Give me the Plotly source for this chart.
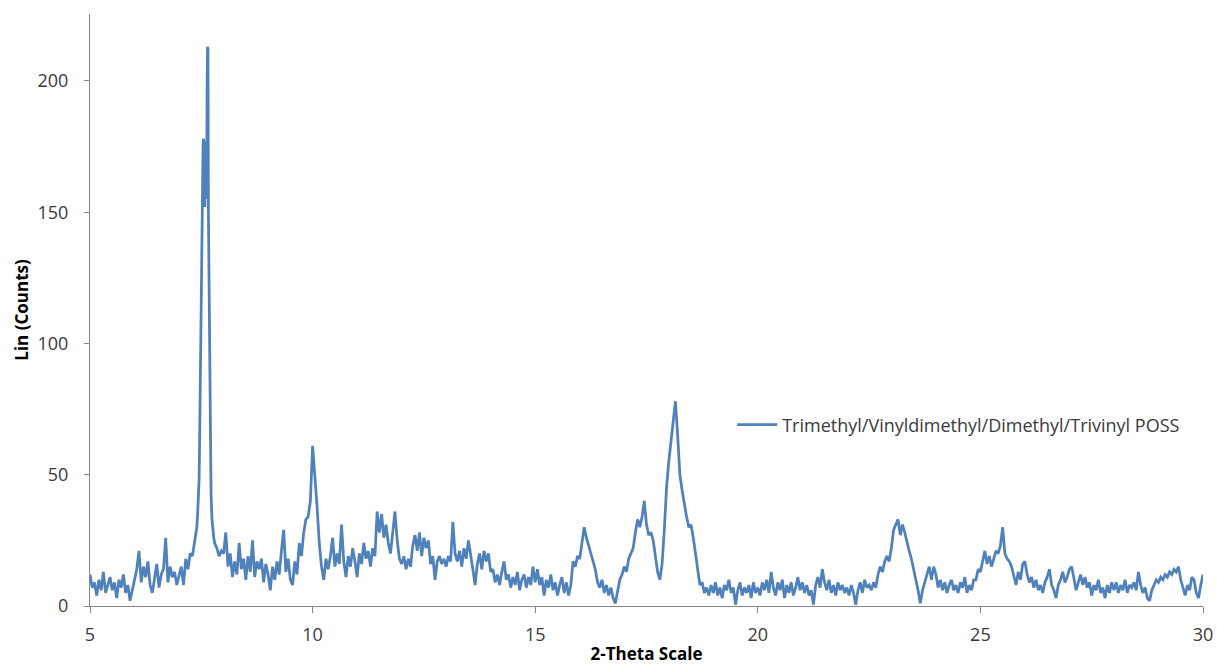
import plotly.graph_objects as go

# XRD scan: Lin (Counts) versus 2-theta, sampled every 0.05 deg from 5.00 deg
theta_start = 5.0
theta_step = 0.05
counts = [
    # 5.00 - 5.95
    12, 7, 9, 4, 10, 6, 13, 5, 8, 11, 6, 9, 3, 10, 7, 12, 5, 8, 2, 6,
    # 6.00 - 6.95
    10, 14, 21, 9, 15, 11, 17, 8, 5, 10, 16, 7, 12, 14, 26, 9, 15, 11, 13, 8,
    # 7.00 - 7.95
    12, 15, 8, 18, 14, 20, 19, 24, 30, 48, 135, 178, 155, 212, 65, 30, 24, 22, 19, 21,
    # 8.00 - 8.95
    20, 28, 15, 20, 11, 17, 12, 24, 14, 18, 10, 19, 13, 25, 11, 17, 14, 18, 9, 16,
    # 9.00 - 9.95
    12, 6, 15, 10, 17, 12, 21, 29, 13, 18, 10, 8, 17, 12, 24, 19, 28, 33, 34, 40,
    # 10.00 - 10.95
    61, 50, 38, 24, 15, 10, 18, 14, 19, 26, 15, 20, 16, 31, 17, 11, 19, 15, 22, 17,
    # 11.00 - 11.95
    11, 20, 16, 24, 18, 21, 15, 22, 19, 36, 28, 35, 26, 31, 24, 20, 27, 36, 25, 18,
    # 12.00 - 12.95
    16, 19, 14, 18, 15, 23, 27, 21, 28, 19, 26, 22, 25, 16, 19, 10, 17, 19, 16, 18,
    # 13.00 - 13.95
    15, 19, 17, 32, 20, 17, 21, 15, 22, 18, 25, 20, 14, 8, 16, 20, 14, 21, 17, 20,
    # 14.00 - 14.95
    13, 14, 9, 12, 8, 13, 17, 10, 12, 7, 11, 8, 13, 6, 10, 12, 7, 11, 8, 15,
    # 15.00 - 15.95
    9, 14, 8, 11, 4, 10, 7, 12, 6, 9, 4, 8, 11, 5, 9, 4, 8, 17, 15, 19,
    # 16.00 - 16.95
    18, 24, 30, 26, 23, 20, 17, 14, 9, 7, 10, 5, 8, 4, 7, 3, 1, 6, 10, 12,
    # 17.00 - 17.95
    15, 13, 18, 20, 22, 28, 33, 30, 34, 40, 31, 27, 28, 25, 18, 13, 10, 16, 29, 45,
    # 18.00 - 18.95
    55, 62, 70, 78, 65, 50, 44, 38, 34, 30, 31, 26, 20, 12, 8, 9, 5, 7, 4, 8,
    # 19.00 - 19.95
    5, 9, 4, 7, 3, 8, 6, 10, 5, 7, 0.5, 6, 9, 4, 7, 5, 8, 3, 9, 5,
    # 20.00 - 20.95
    7, 4, 9, 6, 10, 5, 13, 7, 4, 9, 6, 10, 3, 8, 5, 9, 4, 7, 11, 6,
    # 21.00 - 21.95
    9, 5, 8, 4, 6, 0.5, 8, 11, 7, 14, 9, 6, 10, 5, 8, 4, 9, 6, 8, 5,
    # 22.00 - 22.95
    7, 4, 8, 5, 0.5, 6, 9, 5, 10, 7, 8, 6, 9, 7, 12, 15, 13, 17, 19, 17,
    # 23.00 - 23.95
    22, 29, 31, 33, 27, 31, 28, 24, 21, 18, 14, 11, 6, 1, 6, 9, 12, 15, 10, 15,
    # 24.00 - 24.95
    12, 7, 10, 6, 9, 5, 8, 10, 6, 8, 5, 9, 7, 11, 5, 8, 6, 10, 10, 14,
    # 25.00 - 25.95
    13, 17, 21, 16, 19, 15, 18, 21, 20, 23, 30, 20, 18, 17, 15, 12, 8, 13, 10, 16,
    # 26.00 - 26.95
    17, 12, 9, 11, 7, 10, 6, 8, 5, 9, 11, 14, 8, 6, 3, 8, 10, 13, 9, 11,
    # 27.00 - 27.95
    14, 15, 10, 6, 9, 12, 8, 11, 7, 9, 4, 8, 6, 10, 5, 7, 3, 8, 5, 9,
    # 28.00 - 28.95
    6, 9, 5, 8, 6, 10, 5, 8, 7, 9, 6, 13, 8, 5, 7, 3, 2, 6, 8, 10,
    # 29.00 - 29.95
    9, 11, 10, 12, 11, 13, 12, 14, 13, 15, 10, 7, 4, 8, 6, 11, 10, 5, 3, 8,
    # 30.00
    12,
]

# Finer sampling across the main reflection near 7.6 deg
peak_theta = [7.40, 7.42, 7.44, 7.45, 7.46, 7.47, 7.48, 7.49, 7.50, 7.51, 7.52,
              7.53, 7.54, 7.55, 7.56, 7.57, 7.58, 7.59, 7.60, 7.61, 7.62, 7.63,
              7.64, 7.65, 7.66, 7.67, 7.68, 7.69, 7.70, 7.71, 7.72, 7.74, 7.76,
              7.78, 7.80]
peak_counts = [30, 36, 42, 48, 60, 78, 92, 108, 128, 145, 160,
               170, 176, 178, 153, 177, 152, 176, 155, 172, 158, 198,
               213, 212, 150, 128, 105, 85, 65, 50, 42, 33, 28,
               26, 24]

series_name = "Trimethyl/Vinyldimethyl/Dimethyl/Trivinyl POSS"
x_ticks = [5, 10, 15, 20, 25, 30]
y_ticks = [0, 50, 100, 150, 200]

# merge the coarse scan with the fine window around the main peak
grid = [round(theta_start + i * theta_step, 2) for i in range(len(counts))]
lo, hi = peak_theta[0], peak_theta[-1]
theta = [t for t in grid if t < lo] + peak_theta + [t for t in grid if t > hi]
lin = ([c for t, c in zip(grid, counts) if t < lo] + peak_counts
       + [c for t, c in zip(grid, counts) if t > hi])

font_family = "Open Sans, Lato, sans-serif"
axis_color = "#868686"
label_color = "#3a3a3a"

fig = go.Figure()
fig.add_trace(go.Scatter(
    x=theta, y=lin, mode="lines", name=series_name,
    line=dict(color="#4F81BD", width=2.75),
))

fig.update_layout(
    width=1217, height=665,
    margin=dict(l=90, r=14, t=14, b=59),
    paper_bgcolor="white", plot_bgcolor="white",
    font=dict(family=font_family, size=18, color=label_color),
    showlegend=True,
    legend=dict(
        x=0.577, y=0.306, xanchor="left", yanchor="middle",
        itemwidth=40,
        bgcolor="rgba(0,0,0,0)", font=dict(size=18, color=label_color),
    ),
    xaxis=dict(
        range=[5, 30], tickvals=x_ticks, ticktext=[str(v) for v in x_ticks],
        showgrid=False, zeroline=False, automargin=False,
        ticklabeloverflow="allow",
        showline=True, linecolor=axis_color, linewidth=1,
        ticks="outside", ticklen=6, tickcolor=axis_color,
        ticklabelstandoff=6,
        tickfont=dict(size=18, color=label_color),
        title=dict(text="<b>2-Theta Scale</b>", font=dict(size=17, color="#000000"),
                   standoff=7),
    ),
    yaxis=dict(
        range=[0, 225.5], tickvals=y_ticks, ticktext=[str(v) for v in y_ticks],
        showgrid=False, zeroline=False, automargin=False,
        showline=True, linecolor=axis_color, linewidth=1,
        ticks="outside", ticklen=5, tickcolor=axis_color,
        ticklabelstandoff=12,
        tickfont=dict(size=18, color=label_color),
        title=dict(text="<b>Lin (Counts)</b>", font=dict(size=17, color="#000000"),
                   standoff=4),
    ),
)

fig.write_html("out.html")
